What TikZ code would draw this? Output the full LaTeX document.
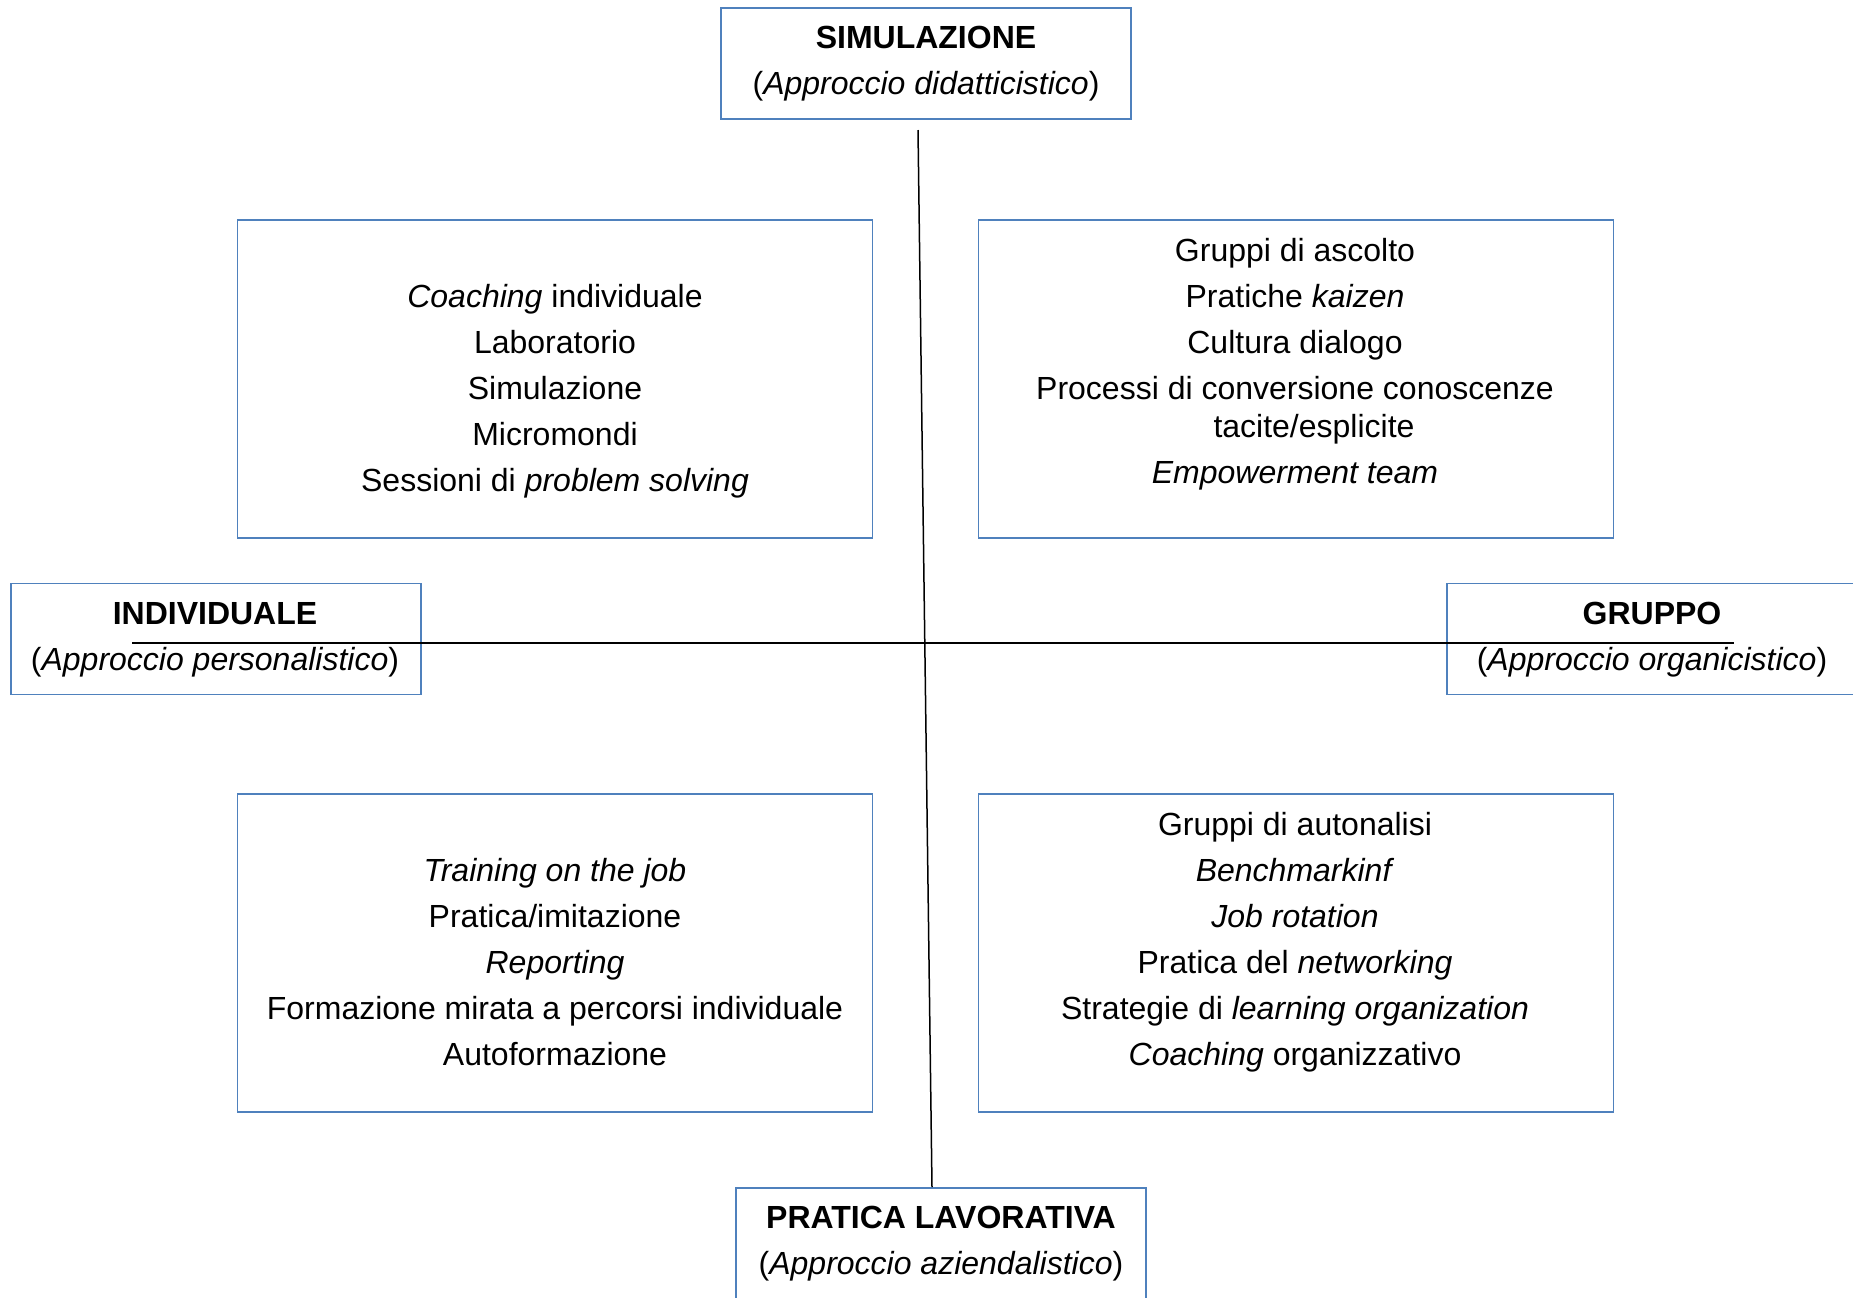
\documentclass[tikz,border=0pt]{standalone}
\usepackage{fontspec}
\setmainfont{Liberation Sans}
\definecolor{boxblue}{RGB}{79,129,189}
\begin{document}
\begin{tikzpicture}[x=1bp,y=-1bp,
  frame/.style={draw=boxblue, line width=1.6bp, fill=white, inner sep=0pt, minimum width=#1},
  quadbox/.style={frame=635bp, minimum height=318bp},
  headbox/.style={frame=410bp, minimum height=111bp},
  txt/.style={align=center, inner sep=0pt, font=\fontsize{32bp}{46bp}\selectfont},
  axis/.style={draw=black, line width=1.5bp}]
\useasboundingbox (0,0) rectangle (1853,1297);
% boxes
\node[headbox] (top) at (926,63.5) {};
\node[headbox] (left) at (216,639) {};
\node[headbox] (right) at (1652,639) {};
\node[headbox] (bottom) at (941,1243.5) {};
\node[quadbox] (tl) at (555,379) {};
\node[quadbox] (tr) at (1296,379) {};
\node[quadbox] (bl) at (555,953) {};
\node[quadbox] (br) at (1296,953) {};
% axes
\coordinate (vtop) at (918,130);
\coordinate (vbot) at (932,1187);
\coordinate (hleft) at (132,643);
\coordinate (hright) at (1734,643);
\draw[axis] (vtop) -- (vbot);
\draw[axis] (hleft) -- (hright);
% header texts
\node[txt] (toptxt) at (926,64) {\textbf{SIMULAZIONE}\\(\textit{Approccio didatticistico})};
\node[txt] (lefttxt) at (215,639.5) {\textbf{INDIVIDUALE}\\(\textit{Approccio personalistico})};
\node[txt] (righttxt) at (1652,639.5) {\textbf{GRUPPO}\\(\textit{Approccio organicistico})};
\node[txt] (bottomtxt) at (941,1244) {\textbf{PRATICA LAVORATIVA}\\(\textit{Approccio aziendalistico})};
% quadrant texts
\node[txt] (tltxt) at (555,391.5) {\textit{Coaching} individuale\\Laboratorio\\Simulazione\\Micromondi\\Sessioni di \textit{problem solving}};
\node[txt] (trtxt) at (1295,364.5) {Gruppi di ascolto\\Pratiche \textit{kaizen}\\Cultura dialogo\\Processi di conversione conoscenze\\[-8bp]\hspace*{38bp}tacite/esplicite\\\textit{Empowerment team}};
\node[txt] (bltxt) at (555,962) {\textit{Training on the job}\\Pratica/imitazione\\\textit{Reporting}\\Formazione mirata a percorsi individuale\\Autoformazione};
\node[txt] (brtxt) at (1295,942.5) {Gruppi di autonalisi\\\textit{Benchmarkinf}\\\textit{Job rotation}\\Pratica del \textit{networking}\\Strategie di \textit{learning organization}\\\textit{Coaching} organizzativo};
\end{tikzpicture}
\end{document}
